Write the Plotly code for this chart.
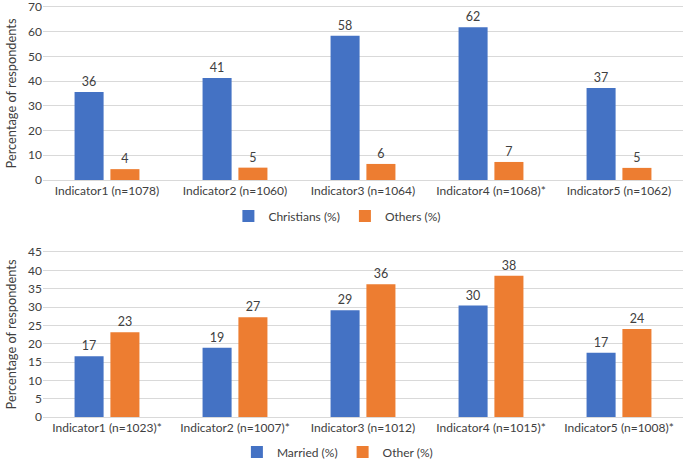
import plotly.graph_objects as go

# ---- data ----
top_categories = ["Indicator1 (n=1078)", "Indicator2 (n=1060)", "Indicator3 (n=1064)",
                  "Indicator4 (n=1068)*", "Indicator5 (n=1062)"]
christians = [35.6, 41.3, 58.4, 61.8, 37.2]
others = [4.4, 5.0, 6.5, 7.3, 4.9]
christians_labels = ["36", "41", "58", "62", "37"]
others_labels = ["4", "5", "6", "7", "5"]

bottom_categories = ["Indicator1 (n=1023)*", "Indicator2 (n=1007)*", "Indicator3 (n=1012)",
                     "Indicator4 (n=1015)*", "Indicator5 (n=1008)*"]
married = [16.6, 18.9, 29.1, 30.4, 17.5]
other = [23.1, 27.2, 36.2, 38.5, 24.0]
married_labels = ["17", "19", "29", "30", "17"]
other_labels = ["23", "27", "36", "38", "24"]

BLUE = "#4472C4"
ORANGE = "#ED7D31"
TXT = "#404040"
GRID = "#D9D9D9"
FONT = "Lato"
FS = 12

fig = go.Figure()

def bar(x, y, labels, name, color, xa, ya, legend):
    return go.Bar(x=x, y=y, name=name, marker=dict(color=color, line=dict(width=0)),
                  text=labels, textposition="outside", cliponaxis=False,
                  textfont=dict(family=FONT, size=FS + 0.5, color=TXT),
                  xaxis=xa, yaxis=ya, legend=legend)

fig.add_trace(bar(top_categories, christians, christians_labels, "Christians (%)", BLUE, "x", "y", "legend"))
fig.add_trace(bar(top_categories, others, others_labels, "Others (%)", ORANGE, "x", "y", "legend"))
fig.add_trace(bar(bottom_categories, married, married_labels, "Married (%)", BLUE, "x2", "y2", "legend2"))
fig.add_trace(bar(bottom_categories, other, other_labels, "Other (%)", ORANGE, "x2", "y2", "legend2"))

axis_font = dict(family=FONT, size=FS, color=TXT)
xcommon = dict(showgrid=False, ticks="", tickfont=axis_font, showline=True, mirror=True,
               linecolor=GRID, linewidth=1, zeroline=False, automargin=False)
ycommon = dict(showgrid=True, gridcolor=GRID, gridwidth=1, zeroline=False, ticks="",
               tickfont=axis_font, showline=False, automargin=False, ticklabeloverflow="allow",
               title=dict(text="Percentage of respondents", font=dict(family=FONT, size=12.8, color=TXT), standoff=8))

H = 460
fig.update_layout(
    width=685, height=460,
    margin=dict(l=43, r=2, t=0, b=0, autoexpand=False),
    paper_bgcolor="white", plot_bgcolor="white",
    barmode="group", bargap=0.44, bargroupgap=0.19,
    font=dict(family=FONT, color=TXT),
    xaxis=dict(domain=[0, 1], anchor="y", **xcommon),
    yaxis=dict(domain=[1 - 180 / H, 1 - 7 / H], anchor="x", range=[0, 70], dtick=10, **ycommon),
    xaxis2=dict(domain=[0, 1], anchor="y2", **xcommon),
    yaxis2=dict(domain=[1 - 417 / H, 1 - 252 / H], anchor="x2", range=[0, 45], dtick=5, **ycommon),
    legend=dict(orientation="h", x=0.46, xanchor="center", y=1 - 216 / H, yanchor="middle",
                font=dict(family=FONT, size=FS, color=TXT), itemwidth=30, traceorder="normal"),
    legend2=dict(orientation="h", x=0.46, xanchor="center", y=1 - 452 / H, yanchor="middle",
                 font=dict(family=FONT, size=FS, color=TXT), itemwidth=30, traceorder="normal"),
    showlegend=True,
)

fig.write_html("out.html", config={"displayModeBar": False},
               post_script="document.body.style.margin='0px';")
